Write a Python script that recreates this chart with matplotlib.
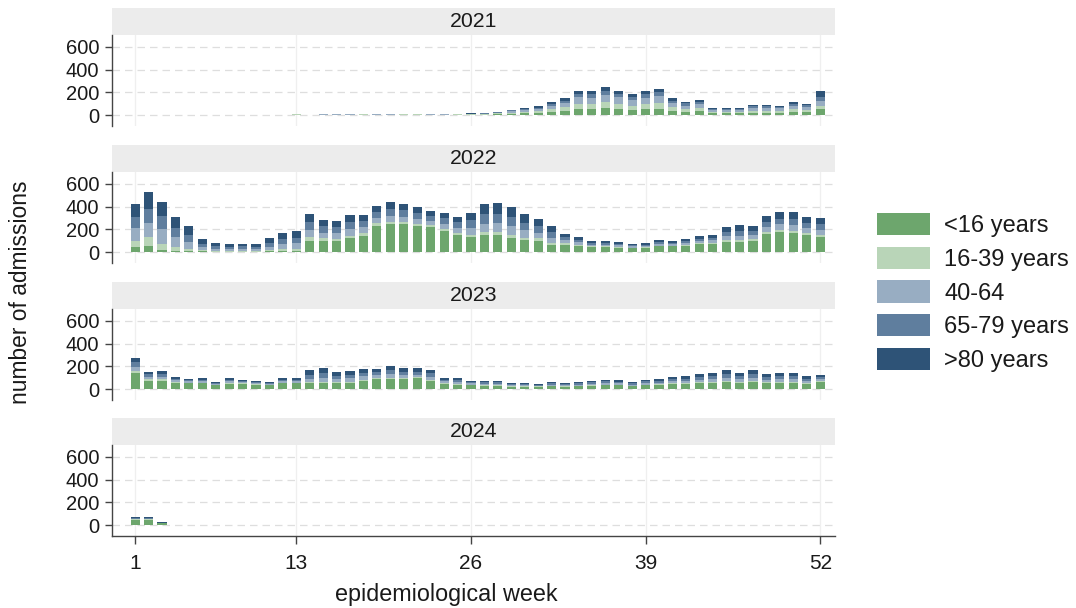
import matplotlib
matplotlib.use("Agg")
import matplotlib.pyplot as plt
from matplotlib.patches import Rectangle

plt.rcParams["font.family"] = ["Liberation Sans", "DejaVu Sans"]

weeks = list(range(1, 53))
weeks_2024 = [1, 2, 3]

age_groups = ["<16 years", "16-39 years", "40-64", "65-79 years", ">80 years"]
colors = ["#6da66d", "#b9d5b8", "#98adc2", "#5f7e9e", "#2e5377"]

# weekly admissions by age group, 2021 (weeks 1-52)
u16_2021 = [0] * 12 + [3, 0, 2, 2, 2, 3, 2, 2, 2, 3, 2, 2, 3,
                       3, 4, 7, 11, 15, 18, 26, 35, 55, 52, 62, 52, 42, 52, 57,
                       36, 28, 33, 15, 15, 15, 21, 21, 20, 27, 24, 52]
a16_39_2021 = [0] * 12 + [2, 0, 2, 2, 2, 2, 2, 2, 3, 2, 2, 2, 2,
                          3, 4, 7, 10, 14, 17, 25, 32, 45, 47, 52, 48, 42, 47, 50,
                          32, 26, 30, 14, 13, 13, 19, 19, 18, 24, 21, 32]
a40_64_2021 = [0] * 12 + [2, 0, 3, 3, 3, 3, 3, 4, 3, 3, 3, 3, 3,
                          4, 5, 8, 12, 16, 19, 28, 37, 55, 54, 62, 55, 46, 53, 58,
                          37, 30, 34, 16, 16, 16, 22, 22, 21, 28, 25, 42]
a65_79_2021 = [0] * 12 + [1, 0, 2, 2, 2, 2, 2, 2, 2, 2, 3, 2, 2,
                          3, 3, 5, 8, 10, 12, 18, 23, 32, 33, 36, 33, 28, 32, 35,
                          23, 18, 21, 10, 10, 10, 14, 14, 12, 17, 15, 33]
a80_2021 = [0] * 12 + [0, 0, 2, 2, 2, 1, 2, 2, 2, 2, 2, 3, 2,
                       2, 2, 3, 6, 9, 10, 15, 20, 27, 28, 32, 27, 24, 27, 29,
                       19, 15, 17, 9, 8, 8, 12, 12, 11, 16, 15, 52]

# 2022
u16_2022 = [41, 53, 18, 12, 8, 5, 4, 3, 4, 3, 6, 10, 12,
            100, 97, 95, 120, 141, 229, 243, 243, 229, 220, 185, 150, 129,
            150, 150, 126, 106, 100, 64, 64, 56, 44, 44, 40, 35, 38,
            50, 50, 55, 70, 75, 88, 88, 97, 158, 179, 164, 147, 132]
a16_39_2022 = [56, 82, 53, 33, 20, 10, 7, 6, 7, 6, 11, 15, 16,
               30, 25, 22, 25, 24, 23, 22, 20, 20, 18, 20, 20, 22,
               25, 25, 25, 22, 20, 18, 12, 10, 7, 7, 6, 5, 5,
               7, 6, 7, 9, 9, 14, 16, 14, 17, 18, 20, 18, 18]
a40_64_2022 = [111, 123, 129, 85, 60, 27, 18, 17, 18, 17, 30, 42, 48,
               64, 50, 48, 58, 52, 48, 55, 50, 46, 38, 43, 45, 60,
               75, 78, 75, 62, 52, 45, 26, 21, 15, 15, 13, 9, 10,
               14, 13, 15, 18, 20, 35, 40, 37, 42, 47, 50, 45, 47]
a65_79_2022 = [103, 120, 117, 80, 65, 30, 20, 19, 20, 19, 32, 45, 52,
               73, 55, 53, 63, 56, 52, 60, 55, 52, 42, 48, 50, 67,
               82, 85, 83, 68, 57, 48, 28, 23, 16, 16, 14, 10, 11,
               15, 15, 17, 21, 23, 38, 45, 40, 47, 51, 55, 49, 51]
a80_2022 = [109, 153, 120, 98, 73, 40, 27, 25, 26, 25, 41, 52, 60,
            64, 52, 52, 62, 52, 50, 57, 52, 49, 40, 44, 46, 68,
            88, 90, 90, 73, 61, 51, 31, 25, 18, 18, 15, 11, 12,
            17, 16, 18, 23, 25, 42, 49, 44, 50, 54, 60, 52, 54]

# 2023
u16_2023 = [138, 73, 73, 56, 50, 50, 35, 48, 45, 40, 35, 50, 50,
            50, 50, 50, 55, 70, 85, 85, 85, 94, 70, 45, 40, 35,
            30, 30, 22, 22, 20, 25, 22, 25, 30, 33, 32, 25, 33,
            35, 42, 45, 52, 53, 60, 53, 60, 50, 55, 55, 45, 60]
a16_39_2023 = [22, 12, 13, 8, 6, 7, 5, 7, 6, 5, 4, 7, 7,
               12, 14, 11, 11, 12, 11, 13, 11, 10, 11, 7, 7, 5,
               6, 6, 4, 4, 3, 5, 4, 5, 6, 7, 6, 5, 7,
               7, 8, 9, 10, 10, 12, 10, 12, 10, 10, 10, 8, 8]
a40_64_2023 = [38, 22, 24, 13, 11, 12, 8, 13, 10, 9, 8, 12, 13,
               30, 37, 28, 29, 29, 26, 32, 27, 24, 27, 15, 15, 10,
               11, 11, 8, 8, 7, 9, 8, 9, 12, 13, 13, 9, 13,
               14, 17, 18, 22, 23, 28, 23, 28, 21, 23, 23, 18, 18]
a65_79_2023 = [36, 22, 24, 13, 10, 12, 8, 13, 10, 9, 7, 12, 13,
               34, 42, 30, 31, 31, 28, 35, 29, 26, 29, 16, 15, 10,
               11, 11, 8, 8, 7, 10, 8, 10, 12, 14, 14, 10, 14,
               14, 18, 20, 24, 25, 30, 25, 30, 23, 25, 25, 19, 19]
a80_2023 = [36, 23, 24, 13, 11, 13, 8, 13, 11, 10, 8, 13, 14,
            38, 45, 33, 34, 34, 29, 37, 30, 28, 30, 17, 17, 10,
            12, 12, 8, 8, 7, 10, 8, 10, 13, 15, 14, 10, 15,
            15, 20, 22, 27, 27, 34, 27, 34, 25, 28, 28, 21, 21]

# 2024 (weeks 1-3 only)
u16_2024 = [42, 43, 14]
a16_39_2024 = [7, 7, 3]
a40_64_2024 = [7, 7, 3]
a65_79_2024 = [6, 7, 2]
a80_2024 = [8, 8, 2]

panels = [
    ("2021", weeks, [u16_2021, a16_39_2021, a40_64_2021, a65_79_2021, a80_2021]),
    ("2022", weeks, [u16_2022, a16_39_2022, a40_64_2022, a65_79_2022, a80_2022]),
    ("2023", weeks, [u16_2023, a16_39_2023, a40_64_2023, a65_79_2023, a80_2023]),
    ("2024", weeks_2024, [u16_2024, a16_39_2024, a40_64_2024, a65_79_2024, a80_2024]),
]

W, H = 1076, 608
fig = plt.figure(figsize=(W / 100, H / 100), dpi=100)

left, right = 112, 835
tops = [35, 172, 309, 445]
panel_h = 91.4
strip_h = 27
text_col = "#1a1a1a"

handles = []
for i, (year, wk, groups) in enumerate(panels):
    top = tops[i]
    ax = fig.add_axes([left / W, 1 - (top + panel_h) / H, (right - left) / W, panel_h / H])
    bottom = [0] * len(wk)
    for vals, col, lab in zip(groups, colors, age_groups):
        b = ax.bar(wk, vals, bottom=bottom, width=0.68, color=col, linewidth=0, label=lab, zorder=3)
        bottom = [a + v for a, v in zip(bottom, vals)]
        if i == 0:
            handles.append(b)

    ax.set_xlim(-0.72, 53.1)
    ax.set_ylim(-100, 705)
    ax.set_yticks([0, 200, 400, 600])
    ax.set_xticks([1, 13, 26, 39, 52])
    for y in [0, 200, 400, 600]:
        ax.axhline(y, color="#dedede", lw=0.9, ls=(0, (6, 4)), zorder=1)
    for x in [1, 13, 26, 39, 52]:
        ax.axvline(x, color="#efefef", lw=0.9, zorder=1)

    for s in ["top", "right"]:
        ax.spines[s].set_visible(False)
    ax.spines["left"].set_color("#444444")
    ax.spines["left"].set_linewidth(1.0)
    ax.tick_params(axis="y", length=5, width=1.0, color="#444444", pad=4,
                   labelsize=14.5, labelcolor=text_col)
    if i < 3:
        ax.spines["bottom"].set_visible(False)
        ax.tick_params(axis="x", bottom=False, labelbottom=False)
    else:
        ax.spines["bottom"].set_color("#444444")
        ax.spines["bottom"].set_linewidth(1.0)
        ax.tick_params(axis="x", length=6, width=1.0, color="#444444", pad=7,
                       labelsize=15, labelcolor=text_col)

    # year strip above each panel
    sh = strip_h / panel_h
    ax.add_patch(Rectangle((0, 1), 1, sh, transform=ax.transAxes, facecolor="#ececec",
                           edgecolor="none", clip_on=False, zorder=0))
    ax.text(0.5, 1 + sh / 2, year, transform=ax.transAxes, ha="center", va="center",
            fontsize=15.3, color=text_col)

fig.text(446 / W, 1 - 594 / H, "epidemiological week", ha="center", va="center",
         fontsize=16.8, color=text_col)
fig.text(21 / W, 1 - 292 / H, "number of admissions", rotation=90, ha="center", va="center",
         fontsize=16.4, color=text_col)

fig.legend(handles=handles, labels=age_groups, loc="upper left",
           bbox_to_anchor=(877 / W, 1 - 213 / H), frameon=False, fontsize=17,
           handlelength=2.25, handleheight=1.08, handletextpad=0.6, labelspacing=0.4,
           borderpad=0, borderaxespad=0, labelcolor=text_col)

fig.savefig("out.png", dpi=100)
